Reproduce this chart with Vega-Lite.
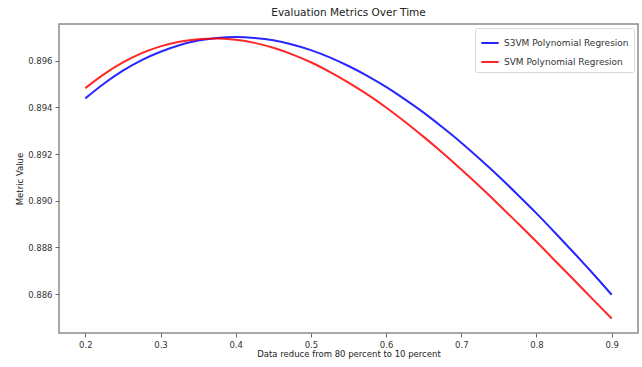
{
  "$schema": "https://vega.github.io/schema/vega-lite/v6.json",
  "width": 579,
  "height": 309,
  "autosize": {"type": "none"},
  "padding": {"left": 59, "top": 24, "right": 4, "bottom": 34},
  "background": "white",
  "title": {"text": "Evaluation Metrics Over Time", "fontSize": 10.5, "font": "DejaVu Sans", "fontWeight": "normal", "color": "#222", "offset": 6},
  "config": {
    "view": {"stroke": "#8c8c8c", "strokeWidth": 1.5},
    "axis": {"grid": false, "domain": false, "tickColor": "#666", "tickSize": 4, "labelFont": "DejaVu Sans", "labelFontSize": 8.5, "labelColor": "#333", "titleFont": "DejaVu Sans", "titleFontSize": 8.5, "titleFontWeight": "normal", "titleColor": "#222"}
  },
  "data": {"values": [
    {"x": 0.2, "series": "S3VM Polynomial Regresion", "v": 0.89439},
    {"x": 0.225, "series": "S3VM Polynomial Regresion", "v": 0.89503},
    {"x": 0.25, "series": "S3VM Polynomial Regresion", "v": 0.89558},
    {"x": 0.275, "series": "S3VM Polynomial Regresion", "v": 0.89603},
    {"x": 0.3, "series": "S3VM Polynomial Regresion", "v": 0.89639},
    {"x": 0.325, "series": "S3VM Polynomial Regresion", "v": 0.89667},
    {"x": 0.35, "series": "S3VM Polynomial Regresion", "v": 0.89687},
    {"x": 0.375, "series": "S3VM Polynomial Regresion", "v": 0.89698},
    {"x": 0.4, "series": "S3VM Polynomial Regresion", "v": 0.89702},
    {"x": 0.425, "series": "S3VM Polynomial Regresion", "v": 0.89698},
    {"x": 0.45, "series": "S3VM Polynomial Regresion", "v": 0.89688},
    {"x": 0.475, "series": "S3VM Polynomial Regresion", "v": 0.8967},
    {"x": 0.5, "series": "S3VM Polynomial Regresion", "v": 0.89646},
    {"x": 0.525, "series": "S3VM Polynomial Regresion", "v": 0.89615},
    {"x": 0.55, "series": "S3VM Polynomial Regresion", "v": 0.89578},
    {"x": 0.575, "series": "S3VM Polynomial Regresion", "v": 0.89536},
    {"x": 0.6, "series": "S3VM Polynomial Regresion", "v": 0.89488},
    {"x": 0.625, "series": "S3VM Polynomial Regresion", "v": 0.89435},
    {"x": 0.65, "series": "S3VM Polynomial Regresion", "v": 0.89378},
    {"x": 0.675, "series": "S3VM Polynomial Regresion", "v": 0.89315},
    {"x": 0.7, "series": "S3VM Polynomial Regresion", "v": 0.89249},
    {"x": 0.725, "series": "S3VM Polynomial Regresion", "v": 0.89178},
    {"x": 0.75, "series": "S3VM Polynomial Regresion", "v": 0.89104},
    {"x": 0.775, "series": "S3VM Polynomial Regresion", "v": 0.89026},
    {"x": 0.8, "series": "S3VM Polynomial Regresion", "v": 0.88946},
    {"x": 0.825, "series": "S3VM Polynomial Regresion", "v": 0.88862},
    {"x": 0.85, "series": "S3VM Polynomial Regresion", "v": 0.88776},
    {"x": 0.875, "series": "S3VM Polynomial Regresion", "v": 0.88688},
    {"x": 0.9, "series": "S3VM Polynomial Regresion", "v": 0.88597},
    {"x": 0.2, "series": "SVM Polynomial Regresion", "v": 0.89483},
    {"x": 0.225, "series": "SVM Polynomial Regresion", "v": 0.89543},
    {"x": 0.25, "series": "SVM Polynomial Regresion", "v": 0.89593},
    {"x": 0.275, "series": "SVM Polynomial Regresion", "v": 0.89633},
    {"x": 0.3, "series": "SVM Polynomial Regresion", "v": 0.89662},
    {"x": 0.325, "series": "SVM Polynomial Regresion", "v": 0.89682},
    {"x": 0.35, "series": "SVM Polynomial Regresion", "v": 0.89693},
    {"x": 0.375, "series": "SVM Polynomial Regresion", "v": 0.89696},
    {"x": 0.4, "series": "SVM Polynomial Regresion", "v": 0.8969},
    {"x": 0.425, "series": "SVM Polynomial Regresion", "v": 0.89677},
    {"x": 0.45, "series": "SVM Polynomial Regresion", "v": 0.89656},
    {"x": 0.475, "series": "SVM Polynomial Regresion", "v": 0.89628},
    {"x": 0.5, "series": "SVM Polynomial Regresion", "v": 0.89594},
    {"x": 0.525, "series": "SVM Polynomial Regresion", "v": 0.89553},
    {"x": 0.55, "series": "SVM Polynomial Regresion", "v": 0.89507},
    {"x": 0.575, "series": "SVM Polynomial Regresion", "v": 0.89456},
    {"x": 0.6, "series": "SVM Polynomial Regresion", "v": 0.894},
    {"x": 0.625, "series": "SVM Polynomial Regresion", "v": 0.89339},
    {"x": 0.65, "series": "SVM Polynomial Regresion", "v": 0.89274},
    {"x": 0.675, "series": "SVM Polynomial Regresion", "v": 0.89206},
    {"x": 0.7, "series": "SVM Polynomial Regresion", "v": 0.89134},
    {"x": 0.725, "series": "SVM Polynomial Regresion", "v": 0.8906},
    {"x": 0.75, "series": "SVM Polynomial Regresion", "v": 0.88983},
    {"x": 0.775, "series": "SVM Polynomial Regresion", "v": 0.88904},
    {"x": 0.8, "series": "SVM Polynomial Regresion", "v": 0.88824},
    {"x": 0.825, "series": "SVM Polynomial Regresion", "v": 0.88742},
    {"x": 0.85, "series": "SVM Polynomial Regresion", "v": 0.8866},
    {"x": 0.875, "series": "SVM Polynomial Regresion", "v": 0.88577},
    {"x": 0.9, "series": "SVM Polynomial Regresion", "v": 0.88495}
  ]},
  "mark": {"type": "line", "strokeWidth": 2, "opacity": 0.85, "interpolate": "monotone"},
  "encoding": {
    "x": {"field": "x", "type": "quantitative", "scale": {"domain": [0.165, 0.935], "nice": false, "zero": false},
      "axis": {"values": [0.2, 0.3, 0.4, 0.5, 0.6, 0.7, 0.8, 0.9], "format": ".1f", "title": "Data reduce from 80 percent to 10 percent", "titlePadding": 1, "labelPadding": 3}},
    "y": {"field": "v", "type": "quantitative", "scale": {"domain": [0.88433, 0.89758], "nice": false, "zero": false},
      "axis": {"values": [0.886, 0.888, 0.89, 0.892, 0.894, 0.896], "format": ".3f", "title": "Metric Value", "titlePadding": 3, "labelPadding": 3}},
    "color": {"field": "series", "type": "nominal",
      "scale": {"domain": ["S3VM Polynomial Regresion", "SVM Polynomial Regresion"], "range": ["#0000ff", "#ff0000"]},
      "legend": {"title": null, "orient": "top-right", "offset": 4, "fillColor": "white", "strokeColor": "#d8d8d8", "padding": 5, "cornerRadius": 2,
        "symbolType": "stroke", "symbolStrokeWidth": 2, "symbolSize": 300, "labelFont": "DejaVu Sans", "labelFontSize": 9, "labelColor": "#333", "rowPadding": 4}}
  }
}
